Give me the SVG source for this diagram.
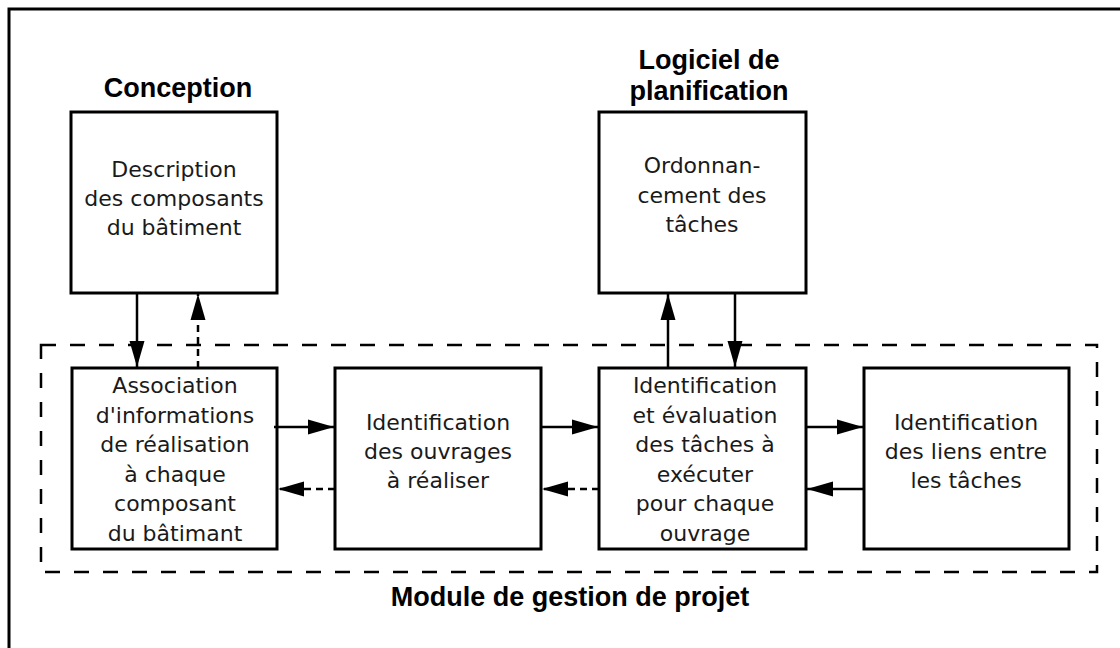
<svg xmlns="http://www.w3.org/2000/svg" width="1120" height="648" viewBox="0 0 1120 648">
<style>
.box{fill:#fff;stroke:#000;stroke-width:3}
.t{font-family:"DejaVu Sans","Liberation Sans",sans-serif;font-size:22px;fill:#1a1a1a;text-anchor:middle}
.h{font-family:"Liberation Sans",Arial,sans-serif;font-size:27px;font-weight:bold;fill:#000;text-anchor:middle}
.c{stroke:#000;stroke-width:2.5;fill:none}
.d{stroke-dasharray:7 5}
</style>
<defs>
<marker id="ah" markerUnits="userSpaceOnUse" markerWidth="26" markerHeight="16" refX="26" refY="8" orient="auto">
<path d="M0,0.5 L26,8 L0,15.5 z" fill="#000"/>
</marker>
</defs>
<rect x="0" y="0" width="1120" height="648" fill="#fff"/>
<rect id="outer-frame" x="9" y="9" width="1300" height="800" fill="none" stroke="#000" stroke-width="3"/>
<g id="module">
<rect x="41" y="345" width="1056" height="227" fill="none" stroke="#000" stroke-width="2.5" stroke-dasharray="15 14"/>
<text class="h" x="570" y="606">Module de gestion de projet</text>
</g>
<g id="conception">
<text class="h" x="178" y="97">Conception</text>
<rect class="box" x="71" y="112" width="206" height="181"/>
<text class="t" x="174" y="177">Description</text>
<text class="t" x="174" y="206">des composants</text>
<text class="t" x="174" y="235">du bâtiment</text>
</g>
<g id="logiciel">
<text class="h" x="709" y="69">Logiciel de</text>
<text class="h" x="709" y="100">planification</text>
<rect class="box" x="599" y="112" width="207" height="181"/>
<text class="t" x="702" y="173">Ordonnan-</text>
<text class="t" x="702" y="203">cement des</text>
<text class="t" x="702" y="232">tâches</text>
</g>
<g id="association">
<rect class="box" x="72" y="368" width="205" height="181"/>
<text class="t" x="175" y="393">Association</text>
<text class="t" x="175" y="422.5">d'informations</text>
<text class="t" x="175" y="452">de réalisation</text>
<text class="t" x="175" y="481.5">à chaque</text>
<text class="t" x="175" y="511">composant</text>
<text class="t" x="175" y="540.5">du bâtimant</text>
</g>
<g id="ouvrages">
<rect class="box" x="335" y="368" width="206" height="181"/>
<text class="t" x="438" y="430">Identification</text>
<text class="t" x="438" y="459">des ouvrages</text>
<text class="t" x="438" y="488">à réaliser</text>
</g>
<g id="taches">
<rect class="box" x="599" y="368" width="207" height="181"/>
<text class="t" x="705" y="393">Identification</text>
<text class="t" x="705" y="422.5">et évaluation</text>
<text class="t" x="705" y="452">des tâches à</text>
<text class="t" x="705" y="481.5">exécuter</text>
<text class="t" x="705" y="511">pour chaque</text>
<text class="t" x="705" y="540.5">ouvrage</text>
</g>
<g id="liens">
<rect class="box" x="864" y="368" width="205" height="181"/>
<text class="t" x="966" y="430">Identification</text>
<text class="t" x="966" y="459">des liens entre</text>
<text class="t" x="966" y="488">les tâches</text>
</g>
<g id="connectors">
<line class="c" x1="137" y1="293" x2="137" y2="367" marker-end="url(#ah)"/>
<line class="c d" x1="198" y1="368" x2="198" y2="294" marker-end="url(#ah)"/>
<line class="c" x1="668" y1="368" x2="668" y2="294" marker-end="url(#ah)"/>
<line class="c" x1="735" y1="293" x2="735" y2="367" marker-end="url(#ah)"/>
<line class="c" x1="274" y1="427" x2="334" y2="427" marker-end="url(#ah)"/>
<line class="c d" x1="335" y1="489" x2="278" y2="489" marker-end="url(#ah)"/>
<line class="c" x1="540" y1="427" x2="598" y2="427" marker-end="url(#ah)"/>
<line class="c d" x1="599" y1="489" x2="542" y2="489" marker-end="url(#ah)"/>
<line class="c" x1="805" y1="427" x2="863" y2="427" marker-end="url(#ah)"/>
<line class="c" x1="864" y1="489" x2="807" y2="489" marker-end="url(#ah)"/>
</g>
</svg>
